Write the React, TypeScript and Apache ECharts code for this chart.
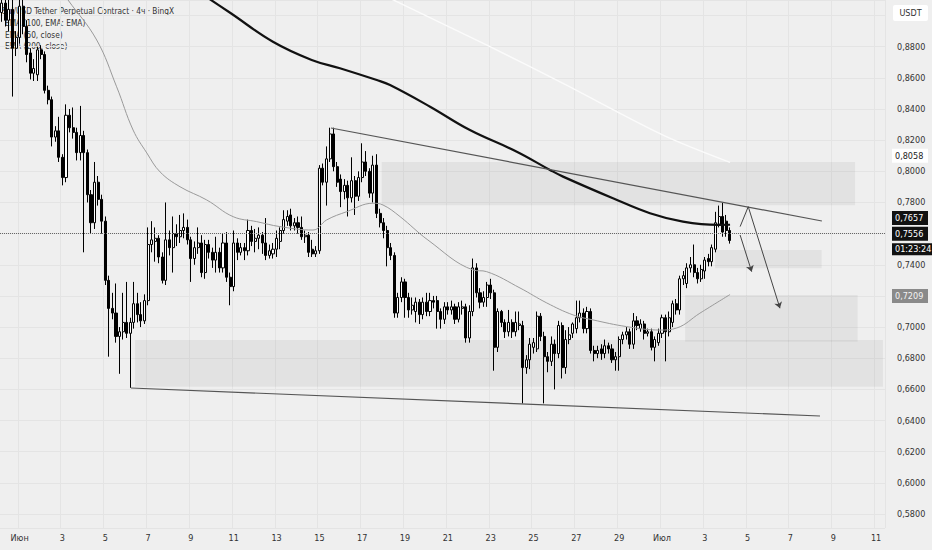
import React, { useEffect, useRef } from 'react';
import * as echarts from 'echarts';

// 4h candles, first slot = 31 May 04:00, slot 5 = 1 June 00:00
const SLOT_COUNT = 248;
const FIRST_DAY_SLOT = 5;

const dayLabels = ['Июн', '3', '5', '7', '9', '11', '13', '15', '17', '19', '21', '23', '25', '27', '29', 'Июл', '3', '5', '7', '9', '11'];

const legendLines = [
  'Sui/USD Tether Perpetual Contract · 4ч · BingX',
  'EMA (100, EMA: EMA)',
  'EMA (50, close)',
  'EMA (200, close)',
];

// [open, close, low, high]
const candles = [
  [0.902, 0.908, 0.896, 0.914], [0.908, 0.897, 0.893, 0.912], [0.897, 0.904, 0.890, 0.912], [0.904, 0.879, 0.848, 0.910],
  [0.879, 0.886, 0.874, 0.890], [0.886, 0.906, 0.882, 0.912], [0.906, 0.893, 0.888, 0.913], [0.893, 0.875, 0.870, 0.897],
  [0.876, 0.863, 0.859, 0.879], [0.863, 0.866, 0.858, 0.872], [0.862, 0.878, 0.858, 0.880], [0.878, 0.875, 0.872, 0.881],
  [0.875, 0.852, 0.850, 0.877], [0.852, 0.846, 0.843, 0.855], [0.846, 0.822, 0.816, 0.848], [0.822, 0.826, 0.819, 0.829],
  [0.826, 0.809, 0.806, 0.835], [0.809, 0.796, 0.791, 0.811], [0.796, 0.836, 0.793, 0.843], [0.836, 0.828, 0.825, 0.840],
  [0.828, 0.825, 0.821, 0.841], [0.825, 0.812, 0.807, 0.828], [0.812, 0.823, 0.807, 0.842], [0.823, 0.812, 0.748, 0.826],
  [0.812, 0.785, 0.780, 0.814], [0.785, 0.767, 0.760, 0.788], [0.767, 0.793, 0.763, 0.806], [0.793, 0.782, 0.778, 0.797],
  [0.782, 0.768, 0.760, 0.785], [0.768, 0.730, 0.727, 0.771], [0.730, 0.712, 0.681, 0.733], [0.712, 0.709, 0.705, 0.722],
  [0.709, 0.694, 0.690, 0.728], [0.694, 0.697, 0.670, 0.700], [0.697, 0.703, 0.692, 0.722], [0.703, 0.696, 0.693, 0.729],
  [0.696, 0.703, 0.661, 0.706], [0.703, 0.715, 0.699, 0.729], [0.715, 0.708, 0.703, 0.722], [0.708, 0.704, 0.700, 0.716],
  [0.704, 0.717, 0.702, 0.721], [0.717, 0.753, 0.714, 0.764], [0.753, 0.756, 0.748, 0.768], [0.755, 0.757, 0.742, 0.764],
  [0.757, 0.745, 0.741, 0.759], [0.745, 0.730, 0.728, 0.748], [0.730, 0.756, 0.727, 0.780], [0.756, 0.751, 0.746, 0.762],
  [0.751, 0.760, 0.735, 0.771], [0.760, 0.758, 0.752, 0.766], [0.758, 0.762, 0.754, 0.772], [0.762, 0.764, 0.757, 0.773],
  [0.764, 0.756, 0.753, 0.769], [0.756, 0.744, 0.729, 0.758], [0.744, 0.751, 0.740, 0.755], [0.751, 0.754, 0.747, 0.764],
  [0.754, 0.735, 0.732, 0.759], [0.735, 0.753, 0.731, 0.756], [0.753, 0.748, 0.744, 0.756], [0.748, 0.743, 0.738, 0.751],
  [0.743, 0.748, 0.735, 0.758], [0.748, 0.738, 0.735, 0.751], [0.738, 0.754, 0.735, 0.760], [0.754, 0.732, 0.729, 0.761],
  [0.732, 0.726, 0.714, 0.735], [0.726, 0.754, 0.723, 0.762], [0.754, 0.748, 0.743, 0.757], [0.748, 0.751, 0.746, 0.754],
  [0.751, 0.749, 0.743, 0.754], [0.749, 0.762, 0.746, 0.769], [0.762, 0.755, 0.752, 0.765], [0.755, 0.757, 0.748, 0.763],
  [0.757, 0.759, 0.750, 0.764], [0.759, 0.754, 0.747, 0.761], [0.754, 0.746, 0.743, 0.770], [0.746, 0.749, 0.744, 0.753],
  [0.747, 0.750, 0.744, 0.754], [0.750, 0.757, 0.745, 0.762], [0.755, 0.762, 0.750, 0.764], [0.762, 0.769, 0.760, 0.775],
  [0.768, 0.771, 0.765, 0.775], [0.772, 0.765, 0.762, 0.776], [0.765, 0.767, 0.762, 0.770], [0.767, 0.764, 0.760, 0.771],
  [0.764, 0.758, 0.756, 0.771], [0.758, 0.759, 0.754, 0.762], [0.759, 0.748, 0.745, 0.761], [0.750, 0.747, 0.745, 0.756],
  [0.747, 0.749, 0.745, 0.752], [0.749, 0.802, 0.747, 0.804], [0.802, 0.793, 0.791, 0.805], [0.793, 0.808, 0.778, 0.816],
  [0.808, 0.824, 0.806, 0.828], [0.824, 0.803, 0.800, 0.828], [0.803, 0.793, 0.790, 0.806], [0.795, 0.787, 0.777, 0.798],
  [0.787, 0.791, 0.782, 0.795], [0.791, 0.783, 0.771, 0.794], [0.783, 0.794, 0.780, 0.809], [0.794, 0.784, 0.772, 0.797],
  [0.784, 0.796, 0.781, 0.800], [0.796, 0.806, 0.793, 0.818], [0.806, 0.800, 0.797, 0.813], [0.800, 0.786, 0.783, 0.802],
  [0.786, 0.804, 0.780, 0.810], [0.804, 0.773, 0.770, 0.811], [0.773, 0.767, 0.764, 0.776], [0.767, 0.762, 0.757, 0.770],
  [0.762, 0.751, 0.739, 0.765], [0.751, 0.746, 0.743, 0.754], [0.746, 0.709, 0.706, 0.748], [0.709, 0.719, 0.706, 0.722],
  [0.719, 0.729, 0.716, 0.732], [0.729, 0.719, 0.706, 0.731], [0.719, 0.711, 0.706, 0.722], [0.711, 0.714, 0.708, 0.719],
  [0.710, 0.716, 0.703, 0.719], [0.716, 0.708, 0.702, 0.718], [0.708, 0.716, 0.705, 0.719], [0.716, 0.710, 0.707, 0.722],
  [0.710, 0.717, 0.707, 0.722], [0.717, 0.716, 0.712, 0.720], [0.717, 0.710, 0.699, 0.720], [0.710, 0.705, 0.699, 0.712],
  [0.705, 0.713, 0.702, 0.716], [0.713, 0.711, 0.708, 0.716], [0.711, 0.713, 0.708, 0.717], [0.713, 0.705, 0.702, 0.715],
  [0.705, 0.713, 0.703, 0.716], [0.712, 0.713, 0.708, 0.717], [0.713, 0.693, 0.690, 0.715], [0.693, 0.710, 0.690, 0.714],
  [0.710, 0.738, 0.707, 0.744], [0.738, 0.722, 0.719, 0.741], [0.722, 0.716, 0.712, 0.725], [0.716, 0.719, 0.713, 0.723],
  [0.719, 0.727, 0.713, 0.729], [0.727, 0.722, 0.718, 0.731], [0.722, 0.687, 0.672, 0.724], [0.687, 0.710, 0.684, 0.712],
  [0.710, 0.703, 0.700, 0.711], [0.703, 0.697, 0.693, 0.705], [0.697, 0.703, 0.694, 0.711], [0.703, 0.697, 0.693, 0.705],
  [0.697, 0.703, 0.694, 0.710], [0.701, 0.702, 0.698, 0.710], [0.701, 0.674, 0.651, 0.704], [0.674, 0.679, 0.670, 0.682],
  [0.679, 0.689, 0.673, 0.693], [0.687, 0.690, 0.683, 0.693], [0.686, 0.707, 0.684, 0.710], [0.707, 0.694, 0.691, 0.709],
  [0.694, 0.681, 0.651, 0.697], [0.681, 0.678, 0.671, 0.684], [0.678, 0.689, 0.675, 0.694], [0.689, 0.683, 0.660, 0.692],
  [0.683, 0.701, 0.680, 0.704], [0.701, 0.674, 0.667, 0.703], [0.674, 0.692, 0.670, 0.698], [0.692, 0.695, 0.689, 0.700],
  [0.696, 0.702, 0.693, 0.703], [0.699, 0.706, 0.696, 0.717], [0.706, 0.709, 0.703, 0.717], [0.709, 0.699, 0.696, 0.712],
  [0.699, 0.710, 0.696, 0.713], [0.710, 0.685, 0.683, 0.712], [0.685, 0.683, 0.678, 0.688], [0.683, 0.685, 0.680, 0.688],
  [0.686, 0.683, 0.679, 0.689], [0.683, 0.688, 0.680, 0.692], [0.688, 0.686, 0.683, 0.690], [0.686, 0.679, 0.677, 0.689],
  [0.679, 0.681, 0.672, 0.684], [0.681, 0.692, 0.672, 0.694], [0.692, 0.695, 0.689, 0.697], [0.695, 0.697, 0.692, 0.700],
  [0.697, 0.689, 0.686, 0.699], [0.689, 0.704, 0.686, 0.709], [0.704, 0.701, 0.698, 0.707], [0.699, 0.702, 0.697, 0.705],
  [0.702, 0.696, 0.692, 0.704], [0.696, 0.697, 0.694, 0.699], [0.697, 0.687, 0.685, 0.699], [0.687, 0.692, 0.678, 0.694],
  [0.690, 0.696, 0.688, 0.699], [0.696, 0.706, 0.693, 0.708], [0.706, 0.697, 0.678, 0.708], [0.697, 0.706, 0.694, 0.710],
  [0.703, 0.715, 0.700, 0.717], [0.715, 0.711, 0.708, 0.718], [0.711, 0.731, 0.708, 0.733], [0.731, 0.733, 0.727, 0.736],
  [0.728, 0.738, 0.725, 0.741], [0.738, 0.740, 0.735, 0.745], [0.740, 0.735, 0.732, 0.753], [0.735, 0.731, 0.728, 0.738],
  [0.731, 0.737, 0.729, 0.740], [0.736, 0.743, 0.731, 0.745], [0.744, 0.742, 0.739, 0.747], [0.742, 0.751, 0.739, 0.753],
  [0.750, 0.767, 0.748, 0.774], [0.766, 0.771, 0.764, 0.778], [0.771, 0.761, 0.758, 0.7797], [0.768, 0.762, 0.758, 0.772],
  [0.762, 0.7556, 0.7536, 0.764],
];

// moving averages: [days since 1 June, price]
const ema50 = [
  [1.93, 0.9164], [2.26, 0.91], [3.6, 0.8843], [4.53, 0.8543], [5.3, 0.8265], [5.94, 0.8118], [6.56, 0.7996],
  [7.49, 0.7901], [8.74, 0.7816], [9.97, 0.7709], [11.07, 0.7677], [12.16, 0.7645], [13.7, 0.7623], [14.34, 0.7688],
  [15.28, 0.7741], [16.5, 0.7795], [16.97, 0.7784], [17.77, 0.7709], [19.07, 0.7559], [21.17, 0.7367], [21.81, 0.7356],
  [23.37, 0.7251], [24.62, 0.7155], [25.85, 0.7078], [26.78, 0.7046], [28.35, 0.7003], [29.91, 0.6981], [30.69, 0.6994],
  [31.77, 0.7089], [33.18, 0.7209],
];
const ema100 = [
  [8.24, 0.9164], [9.83, 0.9018], [11.83, 0.8832], [13.64, 0.8715], [14.96, 0.8662], [16.68, 0.8586], [17.3, 0.8554],
  [19.17, 0.8415], [21.03, 0.8265], [23.22, 0.8126], [24.77, 0.8009], [25.38, 0.7966], [27.71, 0.7827], [29.44, 0.7731],
  [30.98, 0.7677], [32.62, 0.7656], [33.18, 0.7657],
];
const ema200 = [[16.49, 0.9164], [21.97, 0.88], [25.38, 0.8565], [30.05, 0.8233], [33.18, 0.8058]];

const upperTrend = [[14.54, 0.8278], [37.47, 0.7681]];
const lowerTrend = [[5.2, 0.6609], [37.38, 0.6429]];

// [fromDay, topPrice, toDay, bottomPrice]
const zones = [
  [16.91, 0.806, 39.02, 0.7783],
  [32.48, 0.7495, 37.46, 0.7378],
  [31.08, 0.7206, 39.14, 0.6906],
  [5.39, 0.6917, 40.32, 0.6617],
];

// [fromDay, fromPrice, toDay, toPrice, arrowHead]
const arrows = [
  [33.65, 0.7645, 34.03, 0.7773, false],
  [34.03, 0.7773, 35.51, 0.7121, true],
  [33.65, 0.7591, 34.19, 0.7356, true],
];

// [price, background, text colour, text or '' for the price itself, dotted line]
const priceTags = [
  [0.8058, '#ffffff', '#222222', '', false],
  [0.7209, '#8a8a8a', '#f4f4f4', '', false],
  [0.7657, '#111111', '#ffffff', '', false],
  [0.7556, '#111111', '#ffffff', '', true],
  [0.7473, '#111111', '#ffffff', '01:23:24', false],
];

const FONT = "'Liberation Sans Narrow', 'DejaVu Sans Condensed', 'Liberation Sans', Arial, sans-serif";
const fmt = (v: number) => v.toFixed(4).replace('.', ',');
const isDayTick = (i: number) => i >= FIRST_DAY_SLOT && (i - FIRST_DAY_SLOT) % 12 === 0;

const slotNames: string[] = [];
for (let i = 0; i < SLOT_COUNT; i++) {
  const d = new Date(Date.UTC(2025, 4, 31, 4) + i * 4 * 3600 * 1000);
  slotNames.push(`${d.getUTCMonth() + 1}-${d.getUTCDate()} ${d.getUTCHours()}:00`);
}

const App: React.FC = () => {
  const chartRef = useRef<HTMLDivElement | null>(null);

  useEffect(() => {
    const chart = echarts.init(chartRef.current!, null, { renderer: 'svg' });

    const option: echarts.EChartsOption = {
      animation: false,
      backgroundColor: '#efefef',
      grid: { left: 0, right: 47, top: 0, bottom: 22, containLabel: false },
      graphic: [
        ...legendLines.map((t, i) => ({
          type: 'text' as const,
          x: i === 0 ? 2 : 5,
          y: [11, 23, 34.5, 46][i],
          scaleX: 0.87,
          z: 0,
          style: { text: t, fill: '#333', fontSize: 9.5, fontFamily: FONT, verticalAlign: 'middle' as const },
        })),
        {
          type: 'rect',
          x: 893,
          y: 5,
          z: 100,
          shape: { x: 0, y: 0, width: 35, height: 16, r: 2 },
          style: { fill: '#ffffff' },
        },
        {
          type: 'text',
          x: 910.5,
          y: 13,
          z: 101,
          style: { text: 'USDT', fill: '#333', fontSize: 9, fontFamily: FONT, align: 'center', verticalAlign: 'middle' },
        },
      ],
      xAxis: [
        {
          type: 'category',
          data: slotNames,
          boundaryGap: true,
          axisLine: { show: false },
          axisTick: { show: false },
          axisLabel: {
            interval: (i: number) => isDayTick(i),
            formatter: (_v: string, i: number) => dayLabels[(i - FIRST_DAY_SLOT) / 12] ?? '',
            color: '#333',
            fontSize: 9,
            fontFamily: FONT,
            margin: 5,
          },
          splitLine: { show: true, interval: (i: number) => isDayTick(i), lineStyle: { color: '#e4e4e4', width: 1 } },
        },
        {
          type: 'value',
          min: -(FIRST_DAY_SLOT + 0.5) / 6,
          max: (SLOT_COUNT - FIRST_DAY_SLOT - 0.5) / 6,
          show: false,
        },
      ],
      yAxis: {
        type: 'value',
        position: 'right',
        min: 0.571,
        max: 0.91,
        splitNumber: 17,
        axisLine: { show: false },
        axisTick: { show: false },
        axisLabel: {
          formatter: (v: number) => fmt(v),
          color: '#333',
          fontSize: 9,
          fontFamily: FONT,
          margin: 12,
          showMinLabel: false,
          showMaxLabel: false,
        },
        splitLine: { lineStyle: { color: '#e4e4e4', width: 1 } },
      },
      series: [
        {
          type: 'candlestick',
          xAxisIndex: 0,
          yAxisIndex: 0,
          data: candles,
          barWidth: '72%',
          z: 3,
          itemStyle: { color: '#ffffff', color0: '#000000', borderColor: '#000000', borderColor0: '#000000', borderWidth: 1 },
          markLine: {
            silent: true,
            symbol: ['none', 'none'],
            z: 6,
            data: priceTags.map(([v, bg, fg, text, dotted]) => ({
              yAxis: v as number,
              lineStyle: dotted
                ? { color: '#666', type: 'dotted' as const, width: 1 }
                : { color: 'rgba(0,0,0,0)', width: 1 },
              label: {
                show: true,
                position: 'end' as const,
                distance: 7,
                formatter: text !== '' ? (text as string) : fmt(v as number),
                backgroundColor: bg as string,
                color: fg as string,
                fontSize: 9,
                lineHeight: 11,
                fontFamily: FONT,
                padding: text !== '' ? [1, 2, 0, 3] : [2, 3, 1, 3],
                width: text !== '' ? undefined : 30,
                overflow: 'none' as const,
              },
            })),
          },
        },
        {
          name: 'EMA 200',
          type: 'line',
          xAxisIndex: 1,
          data: ema200,
          showSymbol: false,
          smooth: 0.3,
          z: 4,
          lineStyle: { color: '#fbfbfb', width: 1.4 },
        },
        {
          name: 'EMA 100',
          type: 'line',
          xAxisIndex: 1,
          data: ema100,
          showSymbol: false,
          smooth: 0.4,
          z: 4,
          lineStyle: { color: '#111111', width: 2.2 },
        },
        {
          name: 'EMA 50',
          type: 'line',
          xAxisIndex: 1,
          data: ema50,
          showSymbol: false,
          smooth: 0.4,
          z: 4,
          lineStyle: { color: '#9a9a9a', width: 1 },
        },
        {
          type: 'line',
          xAxisIndex: 1,
          data: upperTrend,
          showSymbol: false,
          z: 4,
          lineStyle: { color: '#555555', width: 1.2 },
          markArea: {
            silent: true,
            itemStyle: { color: 'rgba(0,0,0,0.05)' },
            data: zones.map(([x1, y1, x2, y2]) => [{ coord: [x1, y1] }, { coord: [x2, y2] }]) as any,
          },
        },
        {
          type: 'line',
          xAxisIndex: 1,
          data: lowerTrend,
          showSymbol: false,
          z: 4,
          lineStyle: { color: '#555555', width: 1.2 },
          markLine: {
            silent: true,
            symbol: ['none', 'arrow'],
            symbolSize: 6,
            label: { show: false },
            lineStyle: { color: '#444444', width: 1, type: 'solid' },
            data: arrows.map(([x1, y1, x2, y2, head]) => [
              { coord: [x1, y1], symbol: 'none' },
              { coord: [x2, y2], symbol: head ? 'arrow' : 'none' },
            ]) as any,
          },
        },
      ],
    };

    chart.setOption(option);

    return () => {
      chart.dispose();
    };
  }, []);

  return (
    <div
      ref={chartRef}
      style={{ position: 'fixed', left: 0, top: 0, width: '932px', height: '550px' }}
    />
  );
};

export default App;
